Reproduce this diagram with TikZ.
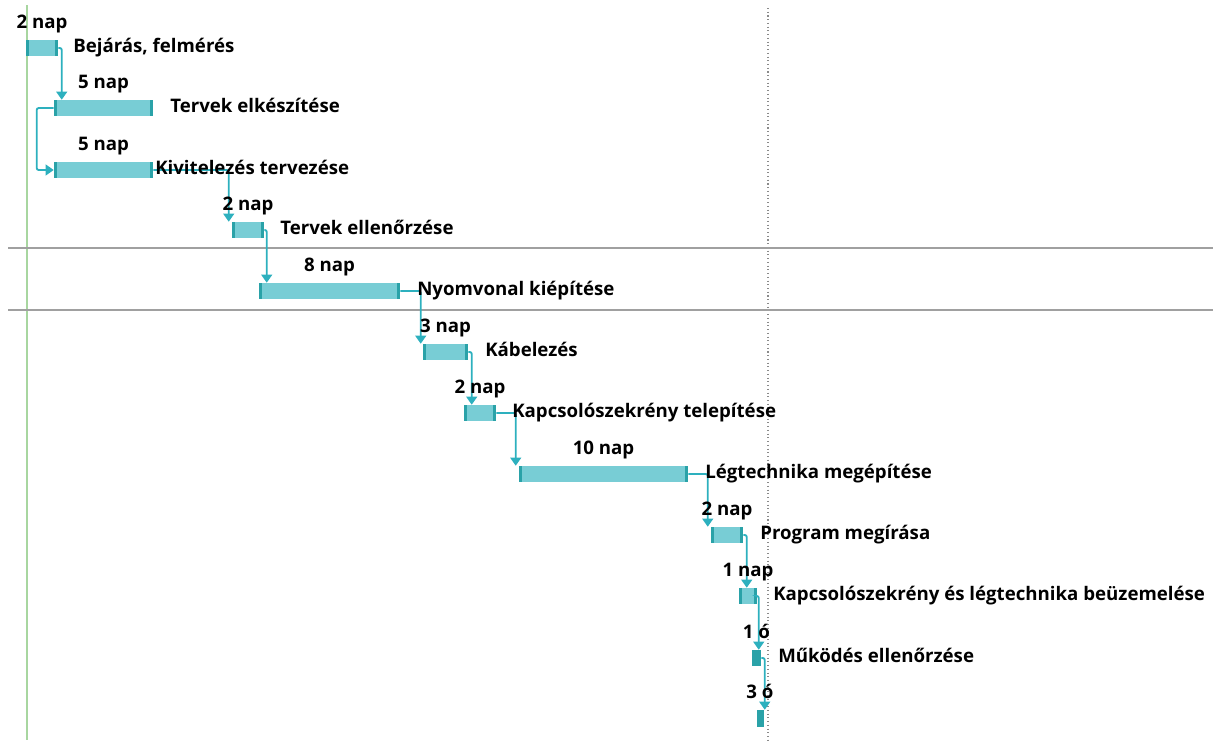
\documentclass[tikz,border=0pt]{standalone}
\usepackage{fontspec}
\setmainfont{Open Sans}
\usetikzlibrary{arrows.meta,fit,calc}
\definecolor{barfill}{HTML}{78CDD5}
\definecolor{barcap}{HTML}{2AA2A8}
\definecolor{linkc}{HTML}{2DB0BE}
\definecolor{startline}{HTML}{A8D6A0}
\definecolor{gridc}{HTML}{A0A0A0}
\definecolor{todayc}{HTML}{8A8A8A}
\begin{document}
\begin{tikzpicture}[x=0.75pt,y=-0.75pt,
  bar/.style={fill=barfill, draw=none, inner sep=0pt,
    path picture={
      \fill[barcap] (path picture bounding box.south west) rectangle ([xshift=2.25pt]path picture bounding box.north west);
      \fill[barcap] ([xshift=-2.25pt]path picture bounding box.south east) rectangle (path picture bounding box.north east);}},
  shortbar/.style={fill=barcap, draw=none, inner sep=0pt},
  txt/.style={font=\bfseries\fontsize{14}{16}\selectfont, inner sep=0pt},
  taskname/.style={txt, anchor=base west},
  dur/.style={txt, anchor=base},
  link/.style={linkc, line width=1.4pt, rounded corners=1.5pt, -{Triangle[width=8pt,length=6pt]}}]
\useasboundingbox (0,0) rectangle (1213,740);

% grid and time markers
\draw[startline, line width=1.1pt] (27,5) -- (27,740);
\draw[todayc, dotted, line width=0.8pt] (768,8) -- (768,740);
\draw[gridc, line width=1.5pt] (8,248) -- (1213,248);
\draw[gridc, line width=1.5pt] (8,310) -- (1213,310);

% task bars
\node[bar, fit={(26,40) (58,56)}] (b1) {};
\node[bar, fit={(54,100) (153,116)}] (b2) {};
\node[bar, fit={(54,162) (153,178)}] (b3) {};
\node[bar, fit={(232,222) (264,238)}] (b4) {};
\node[bar, fit={(259,283) (400,299)}] (b5) {};
\node[bar, fit={(423,344) (468,360)}] (b6) {};
\node[bar, fit={(464,405) (496,421)}] (b7) {};
\node[bar, fit={(519,466) (688,482)}] (b8) {};
\node[bar, fit={(711,527) (743,543)}] (b9) {};
\node[bar, fit={(739,588) (757,604)}] (b10) {};
\node[shortbar, fit={(752,650) (761,666)}] (b11) {};
\node[shortbar, fit={(757,710) (764,727)}] (b12) {};

% dependencies
\draw[link] (b1.east) -| ([xshift=6pt]b2.north west);
\draw[link] (b2.west) -- ++(-17,0) |- (b3.west);
\draw[link] (b3.east) -| ([xshift=-2.25pt]b4.north west);
\draw[link] (b4.east) -| ([xshift=6pt]b5.north west);
\draw[link] (b5.east) -| ([xshift=-1.5pt]b6.north west);
\draw[link] (b6.east) -| ([xshift=6pt]b7.north west);
\draw[link] (b7.east) -| ([xshift=-2.25pt]b8.north west);
\draw[link] (b8.east) -| ([xshift=-2.25pt]b9.north west);
\draw[link] (b9.east) -| ([xshift=6pt]b10.north west);
\draw[link] (b10.east) -| ([xshift=5.25pt]b11.north west);
\draw[link] (b11.east) -| ([xshift=6pt]b12.north west);

% durations
\node[dur] (d1) at (42,28) {2 nap};
\node[dur] (d2) at (103.5,88) {5 nap};
\node[dur] (d3) at (103.5,150) {5 nap};
\node[dur] (d4) at (248,210) {2 nap};
\node[dur] (d5) at (329.5,271) {8 nap};
\node[dur] (d6) at (445.5,332) {3 nap};
\node[dur] (d7) at (480,393) {2 nap};
\node[dur] (d8) at (603.5,454) {10 nap};
\node[dur] (d9) at (727,515) {2 nap};
\node[dur] (d10) at (748,576) {1 nap};
\node[dur] (d11) at (756.5,638) {1 ó};
\node[dur] (d12) at (760,698) {3 ó};

% task names
\node[taskname] (n1) at (73,52) {Bejárás, felmérés};
\node[taskname] (n2) at (170,112) {Tervek elkészítése};
\node[taskname] (n3) at (155,174) {Kivitelezés tervezése};
\node[taskname] (n4) at (280,234) {Tervek ellenőrzése};
\node[taskname] (n5) at (417,295) {Nyomvonal kiépítése};
\node[taskname] (n6) at (485,356) {Kábelezés};
\node[taskname] (n7) at (512,417) {Kapcsolószekrény telepítése};
\node[taskname] (n8) at (705,478) {Légtechnika megépítése};
\node[taskname] (n9) at (760,539) {Program megírása};
\node[taskname] (n10) at (773,600) {Kapcsolószekrény és légtechnika beüzemelése};
\node[taskname] (n11) at (778,662) {Működés ellenőrzése};
\end{tikzpicture}
\end{document}
